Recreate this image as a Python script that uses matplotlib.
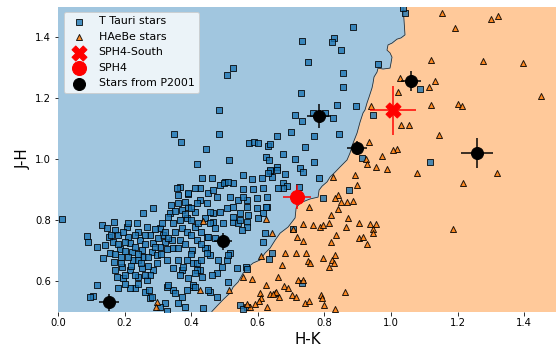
import matplotlib
matplotlib.use("Agg")
import matplotlib.pyplot as plt
import numpy as np

# ---------------- data ----------------
# decision boundary (H-K, J-H), from top to bottom
bound_hk = [1.036, 1.039, 1.042, 1.030, 1.018, 1.003, 0.991, 0.988, 0.997, 1.003, 1.000, 0.997,
            0.976, 0.961, 0.958, 0.949, 0.946, 0.943, 0.934, 0.928, 0.922, 0.916, 0.907, 0.898,
            0.886, 0.877, 0.868, 0.847, 0.832, 0.817, 0.808, 0.793, 0.784, 0.781, 0.757, 0.727,
            0.715, 0.712, 0.691, 0.667, 0.652, 0.637, 0.622, 0.607, 0.586, 0.568, 0.556, 0.541,
            0.526, 0.517, 0.495, 0.480, 0.462]
bound_jh = [1.500, 1.456, 1.407, 1.397, 1.393, 1.380, 1.374, 1.357, 1.348, 1.334, 1.315, 1.298,
            1.295, 1.298, 1.285, 1.269, 1.249, 1.233, 1.203, 1.184, 1.161, 1.151, 1.121, 1.085,
            1.052, 1.020, 0.997, 0.974, 0.957, 0.941, 0.925, 0.911, 0.898, 0.875, 0.869, 0.856,
            0.839, 0.807, 0.777, 0.757, 0.734, 0.708, 0.692, 0.669, 0.659, 0.643, 0.626, 0.597,
            0.580, 0.561, 0.538, 0.521, 0.500]

# T Tauri stars (H-K, J-H)
ttauri = [
    (0.012, 0.803), (0.526, 1.298), (0.508, 1.275), (0.483, 1.161), (0.483, 1.082),
    (0.348, 1.082), (0.369, 1.056), (0.444, 1.033), (0.417, 0.984), (0.514, 0.997),
    (0.432, 0.938), (0.462, 0.938), (0.366, 0.908), (0.501, 0.925), (0.526, 0.921),
    (0.583, 0.934), (0.616, 0.905), (0.574, 1.052), (0.589, 1.056), (0.601, 1.052),
    (0.631, 1.043), (0.637, 1.049), (0.658, 1.075), (0.700, 1.088), (0.712, 1.144),
    (0.733, 1.125), (0.730, 1.216), (0.676, 1.016), (0.625, 1.007), (0.634, 0.997),
    (0.712, 1.000), (0.658, 0.974), (0.637, 0.961), (0.643, 0.941), (0.682, 0.951),
    (0.727, 0.970), (0.736, 0.957), (0.742, 1.039), (0.676, 0.921), (0.688, 0.911),
    (0.751, 1.318), (0.733, 1.387), (0.829, 1.397), (0.823, 1.384), (0.886, 1.433),
    (0.850, 1.357), (0.961, 1.311), (0.856, 1.282), (0.856, 1.236), (0.838, 1.177),
    (0.895, 1.174), (0.769, 1.075), (0.844, 1.082), (0.769, 0.990), (0.784, 0.938),
    (0.796, 0.872), (0.874, 0.898), (0.946, 1.144), (0.913, 1.003), (1.042, 1.479),
    (1.036, 1.495), (1.087, 1.229), (1.117, 0.990), (0.766, 1.151), (0.802, 1.151),
    (0.826, 1.134), (0.628, 0.843), (0.676, 0.905), (0.724, 0.908), (0.637, 0.964),
    (0.658, 0.964), (0.661, 0.905), (0.486, 0.915), (0.498, 0.921), (0.511, 0.925),
    (0.556, 0.902), (0.586, 0.902), (0.613, 0.938), (0.631, 0.954), (0.628, 0.875),
    (0.598, 0.839), (0.616, 0.823), (0.568, 0.866), (0.541, 0.866), (0.526, 0.843),
    (0.508, 0.839), (0.486, 0.826), (0.465, 0.823), (0.447, 0.856), (0.426, 0.866),
    (0.450, 0.888), (0.477, 0.875), (0.517, 0.875), (0.465, 0.793), (0.495, 0.790),
    (0.526, 0.793), (0.541, 0.790), (0.568, 0.793), (0.547, 0.823), (0.571, 0.816),
    (0.447, 0.744), (0.471, 0.741), (0.447, 0.708), (0.456, 0.685), (0.480, 0.669),
    (0.508, 0.669), (0.517, 0.692), (0.492, 0.646), (0.477, 0.626), (0.511, 0.597),
    (0.456, 0.564), (0.477, 0.548), (0.432, 0.613), (0.405, 0.580), (0.402, 0.702),
    (0.426, 0.636), (0.372, 0.636), (0.345, 0.570), (0.327, 0.580), (0.372, 0.548),
    (0.381, 0.515), (0.321, 0.528), (0.306, 0.515), (0.327, 0.502), (0.276, 0.544),
    (0.357, 0.905), (0.390, 0.885), (0.426, 0.905), (0.465, 0.898), (0.556, 0.948),
    (0.598, 0.872), (0.565, 0.646), (0.538, 0.643), (0.547, 0.521), (0.568, 0.515),
    (0.556, 0.875), (0.568, 0.843), (0.625, 0.843), (0.601, 0.807), (0.622, 0.757),
    (0.616, 0.728), (0.547, 0.800), (0.568, 0.777), (0.553, 0.767), (0.526, 0.810),
    (0.457, 0.826), (0.441, 0.807), (0.457, 0.790), (0.471, 0.774), (0.450, 0.744),
    (0.441, 0.708), (0.447, 0.692), (0.511, 0.685), (0.462, 0.620), (0.405, 0.659),
    (0.417, 0.636), (0.405, 0.587), (0.450, 0.570), (0.435, 0.511), (0.556, 0.508),
    (0.634, 0.672), (0.568, 0.639), (0.643, 0.692), (0.733, 0.593), (0.706, 0.770),
    (0.087, 0.748), (0.090, 0.728), (0.117, 0.711), (0.132, 0.784), (0.135, 0.675),
    (0.117, 0.587), (0.105, 0.551), (0.096, 0.548), (0.168, 0.793), (0.147, 0.774),
    (0.153, 0.744), (0.141, 0.718), (0.171, 0.767), (0.165, 0.728), (0.156, 0.692),
    (0.168, 0.662), (0.171, 0.636), (0.177, 0.613), (0.180, 0.577), (0.195, 0.610),
    (0.192, 0.646), (0.186, 0.705), (0.207, 0.777), (0.210, 0.744), (0.216, 0.725),
    (0.201, 0.728), (0.222, 0.695), (0.225, 0.669), (0.216, 0.636), (0.237, 0.790),
    (0.240, 0.761), (0.246, 0.734), (0.252, 0.702), (0.255, 0.679), (0.240, 0.669),
    (0.252, 0.643), (0.240, 0.613), (0.231, 0.577), (0.216, 0.577), (0.267, 0.603),
    (0.261, 0.564), (0.273, 0.570), (0.282, 0.548), (0.255, 0.823), (0.285, 0.839),
    (0.267, 0.777), (0.276, 0.751), (0.285, 0.725), (0.282, 0.695), (0.297, 0.685),
    (0.297, 0.659), (0.285, 0.636), (0.276, 0.620), (0.306, 0.774), (0.312, 0.790),
    (0.315, 0.751), (0.321, 0.728), (0.306, 0.711), (0.327, 0.705), (0.336, 0.823),
    (0.345, 0.790), (0.351, 0.761), (0.342, 0.734), (0.345, 0.708), (0.327, 0.669),
    (0.345, 0.643), (0.360, 0.669), (0.330, 0.587), (0.351, 0.561), (0.360, 0.882),
    (0.390, 0.888), (0.360, 0.856), (0.372, 0.833), (0.390, 0.843), (0.366, 0.800),
    (0.387, 0.807), (0.372, 0.774), (0.387, 0.761), (0.366, 0.734), (0.360, 0.708),
    (0.387, 0.669), (0.375, 0.646), (0.366, 0.620), (0.390, 0.610), (0.387, 0.570),
    (0.360, 0.528), (0.411, 0.580), (0.417, 0.734), (0.411, 0.777), (0.411, 0.826),
    (0.417, 0.856), (0.411, 0.905), (0.417, 0.659), (0.411, 0.626),
    (0.180, 0.750), (0.195, 0.760), (0.200, 0.700), (0.230, 0.710), (0.230, 0.750),
    (0.260, 0.750), (0.260, 0.720), (0.270, 0.680), (0.210, 0.680), (0.190, 0.680),
    (0.240, 0.690), (0.250, 0.660), (0.220, 0.650), (0.190, 0.660), (0.270, 0.650),
    (0.290, 0.710), (0.300, 0.740), (0.310, 0.690), (0.320, 0.760), (0.330, 0.740),
    (0.290, 0.770), (0.180, 0.720), (0.160, 0.750), (0.210, 0.790), (0.200, 0.620),
    (0.230, 0.620), (0.260, 0.620), (0.170, 0.690), (0.240, 0.590), (0.200, 0.590),
    (0.340, 0.850), (0.350, 0.830), (0.380, 0.860), (0.400, 0.840), (0.380, 0.820),
    (0.330, 0.810), (0.400, 0.800), (0.420, 0.790), (0.430, 0.760), (0.400, 0.750),
    (0.430, 0.720), (0.380, 0.720), (0.400, 0.690), (0.430, 0.670),
]

# HAeBe stars (H-K, J-H)
haebe = [
    (1.153, 1.479), (1.300, 1.459), (1.321, 1.469), (1.192, 1.430), (1.120, 1.325),
    (1.276, 1.321), (1.396, 1.315), (1.132, 1.256), (1.114, 1.236), (1.450, 1.207),
    (1.120, 1.177), (1.201, 1.180), (1.213, 1.174), (1.030, 1.111), (1.054, 1.111),
    (1.144, 1.079), (1.027, 1.266), (1.021, 1.220), (0.940, 1.174), (0.934, 1.056),
    (1.018, 1.033), (1.006, 1.030), (0.925, 1.000), (0.973, 1.010), (0.928, 0.984),
    (0.955, 0.974), (0.988, 0.967), (1.078, 0.954), (1.318, 0.954), (0.892, 0.948),
    (0.826, 0.941), (1.216, 0.921), (0.898, 0.915), (0.841, 0.882), (0.832, 0.872),
    (0.850, 0.859), (0.868, 0.859), (0.886, 0.862), (0.754, 0.843), (0.841, 0.836),
    (0.820, 0.816), (0.871, 0.807), (0.736, 0.787), (0.766, 0.784), (0.787, 0.777),
    (0.796, 0.784), (0.814, 0.790), (0.865, 0.777), (0.904, 0.790), (0.937, 0.787),
    (0.955, 0.787), (0.946, 0.770), (0.946, 0.757), (1.186, 0.770), (0.706, 0.770),
    (0.718, 0.744), (0.736, 0.731), (0.835, 0.751), (0.820, 0.728), (0.904, 0.741),
    (0.916, 0.744), (0.928, 0.721), (0.682, 0.692), (0.715, 0.692), (0.745, 0.692),
    (0.751, 0.666), (0.757, 0.659), (0.796, 0.675), (0.823, 0.669), (0.832, 0.685),
    (0.829, 0.659), (0.814, 0.646), (0.673, 0.652), (0.661, 0.613), (0.721, 0.603),
    (0.736, 0.603), (0.679, 0.584), (0.691, 0.577), (0.652, 0.561), (0.664, 0.548),
    (0.703, 0.554), (0.715, 0.548), (0.742, 0.528), (0.754, 0.534), (0.790, 0.554),
    (0.793, 0.544), (0.799, 0.521), (0.862, 0.564), (0.832, 0.508), (0.625, 0.803),
    (0.643, 0.757), (0.610, 0.682), (0.625, 0.587), (0.583, 0.607), (0.556, 0.613),
    (0.637, 0.557), (0.655, 0.564), (0.607, 0.561), (0.610, 0.544), (0.604, 0.534),
    (0.628, 0.515), (0.577, 0.515), (0.514, 0.570), (0.426, 0.570), (0.435, 0.797),
    (0.297, 0.531), (0.294, 0.515), (0.592, 0.525), (0.568, 0.525), (0.646, 0.557),
]

# Stars from P2001
p2001_hk = [0.153, 0.495, 0.784, 0.898, 1.060, 1.258]
p2001_jh = [0.530, 0.731, 1.141, 1.036, 1.256, 1.020]
p2001_hk_err = [0.031, 0.028, 0.036, 0.030, 0.030, 0.047]
p2001_jh_err = [0.027, 0.028, 0.040, 0.024, 0.033, 0.048]

# SPH4-South and SPH4
sph4s_hk, sph4s_jh, sph4s_hk_err, sph4s_jh_err = [1.006], [1.160], [0.068], [0.080]
sph4_hk, sph4_jh, sph4_hk_err, sph4_jh_err = [0.718], [0.875], [0.042], [0.040]

xticks = [0.0, 0.2, 0.4, 0.6, 0.8, 1.0, 1.2, 1.4]
yticks = [0.6, 0.8, 1.0, 1.2, 1.4]

# ---------------- plot ----------------
fig = plt.figure(figsize=(556 / 72, 348 / 72), dpi=72)
ax = fig.add_axes([58 / 556, 1 - 311.5 / 348, 499.5 / 556, 305 / 348])

bhk = np.array(bound_hk)
bjh = np.array(bound_jh)
ax.fill_betweenx(bjh, -0.1, bhk, color='tab:blue', alpha=0.42, linewidth=0)
ax.fill_betweenx(bjh, bhk, 1.6, color='tab:orange', alpha=0.42, linewidth=0)
ax.plot(bhk, bjh, color='#2a2a2a', lw=0.8, zorder=1)

tt = np.array(ttauri)
hb = np.array(haebe)
ax.scatter(tt[:, 0], tt[:, 1], marker='s', s=36, c='tab:blue', edgecolors='k',
           linewidths=1, alpha=0.8, zorder=2, label='T Tauri stars')
ax.scatter(hb[:, 0], hb[:, 1], marker='^', s=36, c='tab:orange', edgecolors='k',
           linewidths=1, alpha=0.85, zorder=3, label='HAeBe stars')

ax.errorbar(sph4s_hk, sph4s_jh, xerr=sph4s_hk_err, yerr=sph4s_jh_err, fmt='none',
            ecolor='red', elinewidth=1.5, zorder=5)
ax.scatter(sph4s_hk, sph4s_jh, marker='X', s=225, c='red', zorder=6, label='SPH4-South')
ax.errorbar(sph4_hk, sph4_jh, xerr=sph4_hk_err, yerr=sph4_jh_err, fmt='none',
            ecolor='red', elinewidth=1.5, zorder=5)
ax.scatter(sph4_hk, sph4_jh, marker='o', s=196, c='red', zorder=6, label='SPH4')
ax.errorbar(p2001_hk, p2001_jh, xerr=p2001_hk_err, yerr=p2001_jh_err, fmt='none',
            ecolor='black', elinewidth=1.5, zorder=4)
ax.scatter(p2001_hk, p2001_jh, marker='o', s=144, c='black', zorder=4,
           label='Stars from P2001')

ax.set_xlim(0, 1.5)
ax.set_ylim(0.5, 1.5)
ax.set_xticks(xticks)
ax.set_yticks(yticks)
ax.set_xticklabels([f"{v:.1f}" for v in xticks])
ax.set_yticklabels([f"{v:.1f}" for v in yticks])
for s in ax.spines.values():
    s.set_visible(False)
ax.tick_params(labelsize=10)
ax.set_xlabel('H-K', fontsize=15)
ax.set_ylabel('J-H', fontsize=15)
ax.legend(loc='upper left', fontsize=11)

fig.savefig('out.png', dpi=72)
